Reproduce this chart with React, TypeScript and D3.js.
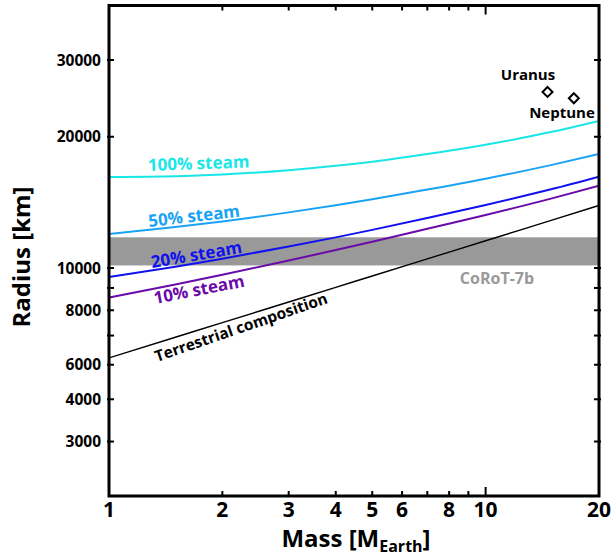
import React from "react";
import * as d3 from "d3";

// ---- data ----
const masses = [1, 1.5, 2, 3, 4, 5, 7, 10, 15, 20];
const steam100 = [16174, 16233, 16380, 16765, 17159, 17534, 18253, 19172, 20525, 21739];
const steam50 = [11969, 12413, 12786, 13415, 13935, 14376, 15131, 16028, 17240, 18261];
const steam20 = [9537, 10070, 10505, 11204, 11756, 12230, 13017, 13949, 15171, 16198];
const steam10 = [8559, 9167, 9649, 10405, 10993, 11486, 12302, 13232, 14444, 15446];
const terrestrial = [6222, 6938, 7496, 8357, 9028, 9588, 10495, 11549, 12878, 13911];

const seriesNames = ["100% steam", "50% steam", "20% steam", "10% steam", "Terrestrial composition"];
const seriesColors = ["#19e6e6", "#1aa3f5", "#1010f0", "#6a0aa8", "#000000"];

const corotBand = [10137, 11761];
const planetNames = ["Uranus", "Neptune"];
const planetMass = [14.6, 17.15];
const planetRadius = [25340, 24510];

const xMajorTicks = [1, 2, 3, 4, 5, 6, 8, 10, 20];
const xMinorTicks = [2, 3, 4, 5, 6, 7, 8, 9];
const yTickValues = [4000, 5000, 6000, 7000, 8000, 9000, 10000, 20000, 30000];
const yTickLabels = ["3000", "4000", "6000", "", "8000", "", "10000", "20000", "30000"];

const W = 616;
const H = 558;
const L = 109, R = 599, T = 5.5, B = 496;
const FONT = "'Open Sans', sans-serif";

export default function App() {
  const x = d3.scaleLog().domain([1, 20]).range([L, R]);
  const y = d3.scaleLog().domain([3000, 40000]).range([B, T]);
  const line = d3
    .line<[number, number]>()
    .x((d) => x(d[0]))
    .y((d) => y(d[1]))
    .curve(d3.curveMonotoneX);
  const all = [steam100, steam50, steam20, steam10, terrestrial];

  const labelPos = [
    { x: 148, y: 171, r: -2, size: 17 },
    { x: 149, y: 227, r: -6.5, size: 17 },
    { x: 152, y: 268, r: -9.5, size: 17 },
    { x: 155, y: 304, r: -11, size: 17 },
    { x: 157, y: 362, r: -19, size: 15.5 },
  ];

  return (
    <svg width={W} height={H} style={{ position: "absolute", left: 0, top: 0, background: "#fff" }}>
      <defs>
        <clipPath id="plot">
          <rect x={L} y={T} width={R - L} height={B - T} />
        </clipPath>
      </defs>
      {/* CoRoT-7b band */}
      <rect
        x={L}
        y={y(corotBand[1])}
        width={R - L}
        height={y(corotBand[0]) - y(corotBand[1])}
        fill="#999999"
      />
      <text x={497} y={284} fontFamily={FONT} fontWeight={700} fontSize={16} fill="#999999" textAnchor="middle">
        CoRoT-7b
      </text>
      {/* curves */}
      <g clipPath="url(#plot)">
        {all.map((s, i) => (
          <path
            key={i}
            d={line(masses.map((m, j) => [m, s[j]] as [number, number])) || ""}
            fill="none"
            stroke={seriesColors[i]}
            strokeWidth={i === 4 ? 1.4 : 2}
          />
        ))}
      </g>
      {/* curve labels */}
      {seriesNames.map((n, i) => (
        <text
          key={n}
          x={labelPos[i].x}
          y={labelPos[i].y}
          transform={`rotate(${labelPos[i].r} ${labelPos[i].x} ${labelPos[i].y})`}
          fontFamily={FONT}
          fontWeight={700}
          fontSize={labelPos[i].size}
          fill={seriesColors[i]}
        >
          {n}
        </text>
      ))}
      {/* planets */}
      {planetNames.map((n, i) => {
        const px = x(planetMass[i]);
        const py = y(planetRadius[i]);
        const s = 5;
        return (
          <path
            key={n}
            d={`M${px},${py - s}L${px + s},${py}L${px},${py + s}L${px - s},${py}Z`}
            fill="#fff"
            stroke="#000"
            strokeWidth={2}
          />
        );
      })}
      <text x={528} y={80} fontFamily={FONT} fontWeight={700} fontSize={15} textAnchor="middle">
        {planetNames[0]}
      </text>
      <text x={562} y={118} fontFamily={FONT} fontWeight={700} fontSize={15} textAnchor="middle">
        {planetNames[1]}
      </text>
      {/* ticks */}
      <g stroke="#000" strokeWidth={2}>
        {xMinorTicks.map((t) => (
          <g key={"xt" + t}>
            <line x1={x(t)} x2={x(t)} y1={B} y2={B - 5} />
            <line x1={x(t)} x2={x(t)} y1={T} y2={T + 5} />
          </g>
        ))}
        <line x1={x(10)} x2={x(10)} y1={B} y2={B - 9} />
        <line x1={x(10)} x2={x(10)} y1={T} y2={T + 9} />
        {yTickValues.map((t) => (
          <g key={"yt" + t}>
            <line x1={L - 2} x2={L + 5} y1={y(t)} y2={y(t)} />
            <line x1={R + 2} x2={R - 5} y1={y(t)} y2={y(t)} />
          </g>
        ))}
      </g>
      {/* frame */}
      <rect x={L} y={T} width={R - L} height={B - T} fill="none" stroke="#000" strokeWidth={3} />
      {/* tick labels */}
      {xMajorTicks.map((t) => (
        <text
          key={"xl" + t}
          x={x(t)}
          y={517}
          fontFamily={FONT}
          fontWeight={700}
          fontSize={21}
          textAnchor="middle"
        >
          {String(t)}
        </text>
      ))}
      {yTickValues.map((t, i) =>
        yTickLabels[i] ? (
          <text
            key={"yl" + t}
            x={101}
            y={y(t)}
            dy="0.36em"
            fontFamily={FONT}
            fontWeight={700}
            fontSize={15.5}
            textAnchor="end"
          >
            {yTickLabels[i]}
          </text>
        ) : null
      )}
      {/* axis titles */}
      <text x={356} y={547} fontFamily={FONT} fontWeight={700} fontSize={24} textAnchor="middle">
        Mass [M<tspan fontSize={16} dy={5}>Earth</tspan>
        <tspan dy={-5}>]</tspan>
      </text>
      <text
        transform="translate(30,257) rotate(-90)"
        fontFamily={FONT}
        fontWeight={700}
        fontSize={24}
        textAnchor="middle"
      >
        Radius [km]
      </text>
    </svg>
  );
}
